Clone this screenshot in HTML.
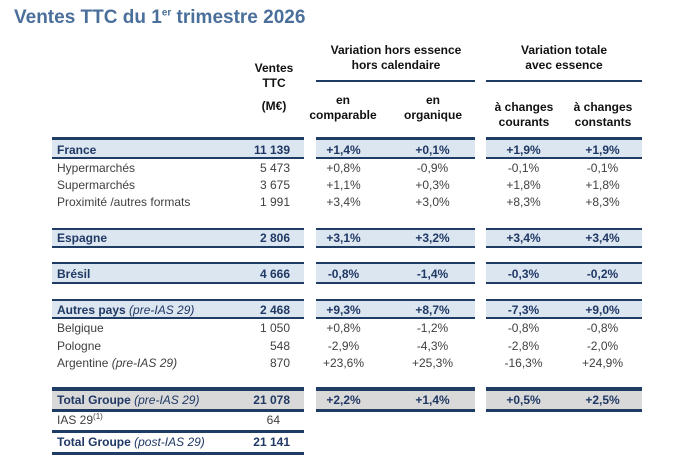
<!DOCTYPE html>
<html><head><meta charset="utf-8"><style>
body{margin:0;width:700px;height:466px;background:#fff;position:relative;overflow:hidden;font-family:"Liberation Sans",sans-serif;}
.a{position:absolute;white-space:nowrap;}
.t{font-size:12px;line-height:14px;color:#404040;}
.b{font-weight:bold;color:#1f3864;}
.h{font-size:12px;line-height:15px;font-weight:bold;color:#111;text-align:center;}
.l{position:absolute;background:#1f3c64;}
.band{position:absolute;background:#dce6f1;}
.g{position:absolute;background:#d9d9d9;}
.c1{left:316px;width:55px;text-align:center}
.c2{left:405px;width:55px;text-align:center}
.c3{left:496px;width:55px;text-align:center}
.c4{left:575px;width:55px;text-align:center}
.v{left:230px;width:60px;text-align:right}
.lab{left:57px}
i{font-style:italic;font-weight:normal}
sup{line-height:0}
</style></head><body>
<div class="a" style="left:14px;top:7px;font-size:19px;font-weight:bold;color:#4a6f9a;">Ventes TTC du 1<sup style="font-size:10px">er</sup> trimestre 2026</div>

<div class="a h" style="left:244px;width:60px;top:61px">Ventes<br>TTC</div>
<div class="a h" style="left:244px;width:60px;top:99px">(M€)</div>
<div class="a h" style="left:316px;width:160px;top:43px">Variation hors essence<br>hors calendaire</div>
<div class="a h" style="left:486px;width:156px;top:43px">Variation totale<br>avec essence</div>
<div class="l" style="left:316px;top:80px;width:159px;height:2px"></div>
<div class="l" style="left:486px;top:80px;width:156px;height:2px"></div>
<div class="a h" style="left:305px;width:76px;top:93px">en<br>comparable</div>
<div class="a h" style="left:395px;width:76px;top:93px">en<br>organique</div>
<div class="a h" style="left:486px;width:76px;top:100px">à changes<br>courants</div>
<div class="a h" style="left:565px;width:76px;top:100px">à changes<br>constants</div>

<div class="band" style="left:52px;top:140px;width:252px;height:17px"></div><div class="band" style="left:316px;top:140px;width:159px;height:17px"></div><div class="band" style="left:486px;top:140px;width:156px;height:17px"></div>
<div class="band" style="left:52px;top:230px;width:252px;height:16px"></div><div class="band" style="left:316px;top:230px;width:159px;height:16px"></div><div class="band" style="left:486px;top:230px;width:156px;height:16px"></div>
<div class="band" style="left:52px;top:264px;width:252px;height:18px"></div><div class="band" style="left:316px;top:264px;width:159px;height:18px"></div><div class="band" style="left:486px;top:264px;width:156px;height:18px"></div>
<div class="band" style="left:52px;top:301px;width:252px;height:16px"></div><div class="band" style="left:316px;top:301px;width:159px;height:16px"></div><div class="band" style="left:486px;top:301px;width:156px;height:16px"></div>
<div class="g" style="left:52px;top:390px;width:252px;height:20px"></div><div class="g" style="left:316px;top:390px;width:159px;height:20px"></div><div class="g" style="left:486px;top:390px;width:156px;height:20px"></div>

<div class="l" style="left:52px;top:137px;width:252px;height:3px"></div><div class="l" style="left:316px;top:137px;width:159px;height:3px"></div><div class="l" style="left:486px;top:137px;width:156px;height:3px"></div>
<div class="l" style="left:52px;top:157px;width:252px;height:2px"></div><div class="l" style="left:316px;top:157px;width:159px;height:2px"></div><div class="l" style="left:486px;top:157px;width:156px;height:2px"></div>
<div class="l" style="left:52px;top:228px;width:252px;height:2px"></div><div class="l" style="left:316px;top:228px;width:159px;height:2px"></div><div class="l" style="left:486px;top:228px;width:156px;height:2px"></div>
<div class="l" style="left:52px;top:246px;width:252px;height:2px"></div><div class="l" style="left:316px;top:246px;width:159px;height:2px"></div><div class="l" style="left:486px;top:246px;width:156px;height:2px"></div>
<div class="l" style="left:52px;top:262px;width:252px;height:2px"></div><div class="l" style="left:316px;top:262px;width:159px;height:2px"></div><div class="l" style="left:486px;top:262px;width:156px;height:2px"></div>
<div class="l" style="left:52px;top:282px;width:252px;height:2px"></div><div class="l" style="left:316px;top:282px;width:159px;height:2px"></div><div class="l" style="left:486px;top:282px;width:156px;height:2px"></div>
<div class="l" style="left:52px;top:299px;width:252px;height:2px"></div><div class="l" style="left:316px;top:299px;width:159px;height:2px"></div><div class="l" style="left:486px;top:299px;width:156px;height:2px"></div>
<div class="l" style="left:52px;top:317px;width:252px;height:2px"></div><div class="l" style="left:316px;top:317px;width:159px;height:2px"></div><div class="l" style="left:486px;top:317px;width:156px;height:2px"></div>
<div class="l" style="left:52px;top:387px;width:252px;height:4px"></div><div class="l" style="left:316px;top:387px;width:159px;height:4px"></div><div class="l" style="left:486px;top:387px;width:156px;height:4px"></div>
<div class="l" style="left:52px;top:409px;width:252px;height:3px"></div><div class="l" style="left:316px;top:409px;width:159px;height:3px"></div><div class="l" style="left:486px;top:409px;width:156px;height:3px"></div>
<div class="l" style="left:52px;top:430px;width:252px;height:3px"></div>
<div class="l" style="left:52px;top:452px;width:252px;height:3px"></div>

<div class="a t b lab" style="top:143px">France</div><div class="a t b v" style="top:143px">11 139</div><div class="a t b c1" style="top:143px">+1,4%</div><div class="a t b c2" style="top:143px">+0,1%</div><div class="a t b c3" style="top:143px">+1,9%</div><div class="a t b c4" style="top:143px">+1,9%</div>
<div class="a t lab" style="top:161px">Hypermarchés</div><div class="a t v" style="top:161px">5 473</div><div class="a t c1" style="top:161px">+0,8%</div><div class="a t c2" style="top:161px">-0,9%</div><div class="a t c3" style="top:161px">-0,1%</div><div class="a t c4" style="top:161px">-0,1%</div>
<div class="a t lab" style="top:178px">Supermarchés</div><div class="a t v" style="top:178px">3 675</div><div class="a t c1" style="top:178px">+1,1%</div><div class="a t c2" style="top:178px">+0,3%</div><div class="a t c3" style="top:178px">+1,8%</div><div class="a t c4" style="top:178px">+1,8%</div>
<div class="a t lab" style="top:195px">Proximité /autres formats</div><div class="a t v" style="top:195px">1 991</div><div class="a t c1" style="top:195px">+3,4%</div><div class="a t c2" style="top:195px">+3,0%</div><div class="a t c3" style="top:195px">+8,3%</div><div class="a t c4" style="top:195px">+8,3%</div>
<div class="a t b lab" style="top:231px">Espagne</div><div class="a t b v" style="top:231px">2 806</div><div class="a t b c1" style="top:231px">+3,1%</div><div class="a t b c2" style="top:231px">+3,2%</div><div class="a t b c3" style="top:231px">+3,4%</div><div class="a t b c4" style="top:231px">+3,4%</div>
<div class="a t b lab" style="top:267px">Brésil</div><div class="a t b v" style="top:267px">4 666</div><div class="a t b c1" style="top:267px">-0,8%</div><div class="a t b c2" style="top:267px">-1,4%</div><div class="a t b c3" style="top:267px">-0,3%</div><div class="a t b c4" style="top:267px">-0,2%</div>
<div class="a t b lab" style="top:303px">Autres pays <i>(pre-IAS 29)</i></div><div class="a t b v" style="top:303px">2 468</div><div class="a t b c1" style="top:303px">+9,3%</div><div class="a t b c2" style="top:303px">+8,7%</div><div class="a t b c3" style="top:303px">-7,3%</div><div class="a t b c4" style="top:303px">+9,0%</div>
<div class="a t lab" style="top:321px">Belgique</div><div class="a t v" style="top:321px">1 050</div><div class="a t c1" style="top:321px">+0,8%</div><div class="a t c2" style="top:321px">-1,2%</div><div class="a t c3" style="top:321px">-0,8%</div><div class="a t c4" style="top:321px">-0,8%</div>
<div class="a t lab" style="top:339px">Pologne</div><div class="a t v" style="top:339px">548</div><div class="a t c1" style="top:339px">-2,9%</div><div class="a t c2" style="top:339px">-4,3%</div><div class="a t c3" style="top:339px">-2,8%</div><div class="a t c4" style="top:339px">-2,0%</div>
<div class="a t lab" style="top:356px">Argentine <i>(pre-IAS 29)</i></div><div class="a t v" style="top:356px">870</div><div class="a t c1" style="top:356px">+23,6%</div><div class="a t c2" style="top:356px">+25,3%</div><div class="a t c3" style="top:356px">-16,3%</div><div class="a t c4" style="top:356px">+24,9%</div>
<div class="a t b lab" style="top:393px">Total Groupe <i>(pre-IAS 29)</i></div><div class="a t b v" style="top:393px">21 078</div><div class="a t b c1" style="top:393px">+2,2%</div><div class="a t b c2" style="top:393px">+1,4%</div><div class="a t b c3" style="top:393px">+0,5%</div><div class="a t b c4" style="top:393px">+2,5%</div>
<div class="a t lab" style="top:413px">IAS 29<sup style="font-size:8px">(1)</sup></div><div class="a t v" style="top:413px;width:50px">64</div>
<div class="a t b lab" style="top:435px">Total Groupe <i>(post-IAS 29)</i></div><div class="a t b v" style="top:435px">21 141</div>
</body></html>
